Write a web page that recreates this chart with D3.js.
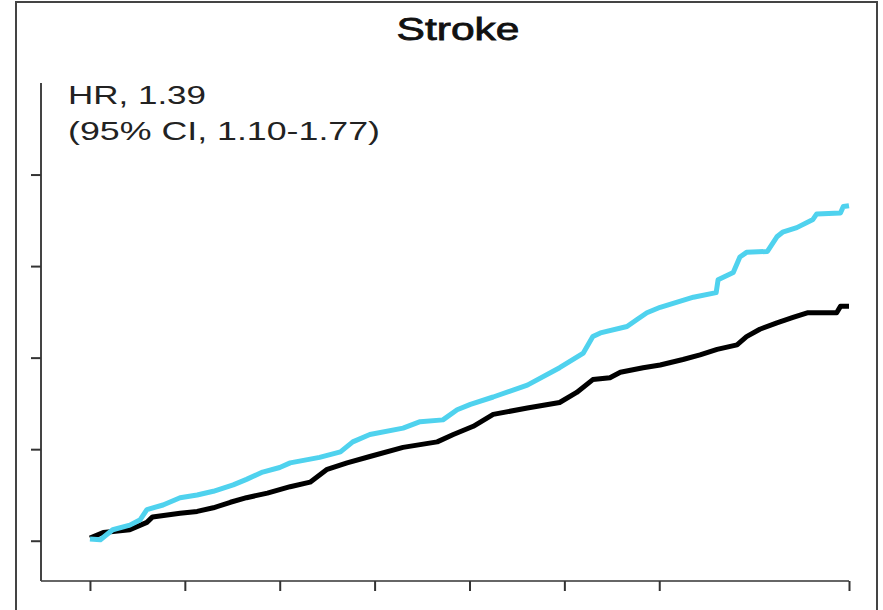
<!DOCTYPE html>
<html>
<head>
<meta charset="utf-8">
<script src="https://cdn.jsdelivr.net/npm/d3@7"></script>
<style>
  html, body { margin: 0; padding: 0; background: #fff; }
  svg { display: block; }
</style>
</head>
<body>
<svg id="chart" width="883" height="610"></svg>
<script>
// ---- Data ----
const chartTitle = "Stroke";
const annotationLines = ["HR, 1.39", "(95% CI, 1.10-1.77)"];
const xTickValues = [0, 1, 2, 3, 4, 5, 6, 8];
const yTickValues = [0, 1, 2, 3, 4];

// cyan group: time (x units) and cumulative incidence (y units)
const cyanTime = [0, 0.11, 0.24, 0.42, 0.53, 0.60, 0.77, 0.95, 1.13, 1.30, 1.51, 1.65, 1.82, 2.00, 2.11, 2.42, 2.64, 2.77, 2.95, 3.30, 3.48, 3.72, 3.87, 4.01, 4.25, 4.61, 4.95, 5.20, 5.30, 5.38, 5.66, 5.77, 5.87, 6.01, 6.36, 6.60, 6.62, 6.78, 6.85, 6.92, 7.14, 7.24, 7.30, 7.45, 7.62, 7.66, 7.91, 7.94, 8.00];
const cyanValue = [0.02, 0.01, 0.12, 0.17, 0.23, 0.34, 0.39, 0.47, 0.50, 0.54, 0.61, 0.67, 0.75, 0.80, 0.85, 0.91, 0.97, 1.08, 1.16, 1.23, 1.30, 1.32, 1.43, 1.49, 1.57, 1.70, 1.89, 2.05, 2.23, 2.27, 2.34, 2.42, 2.49, 2.55, 2.66, 2.71, 2.85, 2.93, 3.10, 3.15, 3.16, 3.32, 3.37, 3.42, 3.51, 3.57, 3.58, 3.65, 3.66];

// black group
const blackTime = [0, 0.14, 0.42, 0.60, 0.66, 0.95, 1.13, 1.30, 1.48, 1.65, 1.87, 2.11, 2.32, 2.50, 2.71, 2.95, 3.30, 3.48, 3.66, 3.83, 4.04, 4.25, 4.61, 4.95, 5.13, 5.30, 5.48, 5.59, 5.83, 6.01, 6.25, 6.43, 6.61, 6.82, 6.92, 7.06, 7.24, 7.41, 7.56, 7.87, 7.91, 8.00];
const blackValue = [0.03, 0.09, 0.12, 0.20, 0.26, 0.30, 0.32, 0.36, 0.42, 0.47, 0.52, 0.59, 0.64, 0.78, 0.85, 0.92, 1.02, 1.05, 1.08, 1.16, 1.25, 1.38, 1.45, 1.51, 1.62, 1.76, 1.78, 1.84, 1.89, 1.92, 1.98, 2.03, 2.09, 2.14, 2.23, 2.31, 2.38, 2.44, 2.49, 2.49, 2.56, 2.56];

const series = [
  { name: "black", time: blackTime, value: blackValue, color: "#000000" },
  { name: "cyan", time: cyanTime, value: cyanValue, color: "#4fd2ee" }
];

// ---- Drawing ----
const svg = d3.select("#chart");
const FONT = "'Liberation Sans', Arial, Helvetica, sans-serif";

// outer frame
svg.append("rect")
  .attr("x", 16).attr("y", 2)
  .attr("width", 861).attr("height", 620)
  .attr("fill", "none").attr("stroke", "#444").attr("stroke-width", 2);

const x = d3.scaleLinear().domain([-0.516, 8]).range([41, 849]);
const y = d3.scaleLinear().domain([-0.44, 5.0]).range([581, 83]);

// x axis
const xAxis = d3.axisBottom(x).tickValues(xTickValues).tickSize(10).tickFormat("").tickSizeOuter(0);
const gx = svg.append("g").attr("transform", `translate(0,${y(-0.44)})`).call(xAxis);
gx.select(".domain").attr("stroke", "#666").attr("stroke-width", 2)
  .attr("d", `M${x(-0.516)},0H${x(8)}`);
gx.selectAll(".tick line").attr("stroke", "#333").attr("stroke-width", 2);

// y axis
const yAxis = d3.axisLeft(y).tickValues(yTickValues).tickSize(10).tickFormat("").tickSizeOuter(0);
const gy = svg.append("g").attr("transform", `translate(${x(-0.516)},0)`).call(yAxis);
gy.select(".domain").attr("stroke", "#444").attr("stroke-width", 2)
  .attr("d", `M0,${y(5.0)}V${y(-0.44)}`);
gy.selectAll(".tick line").attr("stroke", "#333").attr("stroke-width", 2);

// curves
const line = d3.line()
  .x(d => x(d[0]))
  .y(d => y(d[1]))
  .curve(d3.curveLinear);

series.forEach(s => {
  const pts = s.time.map((t, i) => [t, s.value[i]]);
  svg.append("path")
    .datum(pts)
    .attr("fill", "none")
    .attr("stroke", s.color)
    .attr("stroke-width", 5)
    .attr("stroke-linejoin", "round")
    .attr("d", line);
});

// title
svg.append("text")
  .attr("x", 458).attr("y", 40)
  .attr("text-anchor", "middle")
  .attr("font-family", FONT)
  .attr("font-size", 32)
  .attr("textLength", 123)
  .attr("lengthAdjust", "spacingAndGlyphs")
  .attr("fill", "#111")
  .attr("stroke", "#111")
  .attr("stroke-width", 0.8)
  .text(chartTitle);

// annotation
const annLengths = [138, 312];
annotationLines.forEach((t, i) => {
  svg.append("text")
    .attr("x", 68).attr("y", 104 + i * 36)
    .attr("font-family", FONT)
    .attr("font-size", 26)
    .attr("textLength", annLengths[i])
    .attr("lengthAdjust", "spacingAndGlyphs")
    .attr("fill", "#222")
    .text(t);
});
</script>
</body>
</html>
